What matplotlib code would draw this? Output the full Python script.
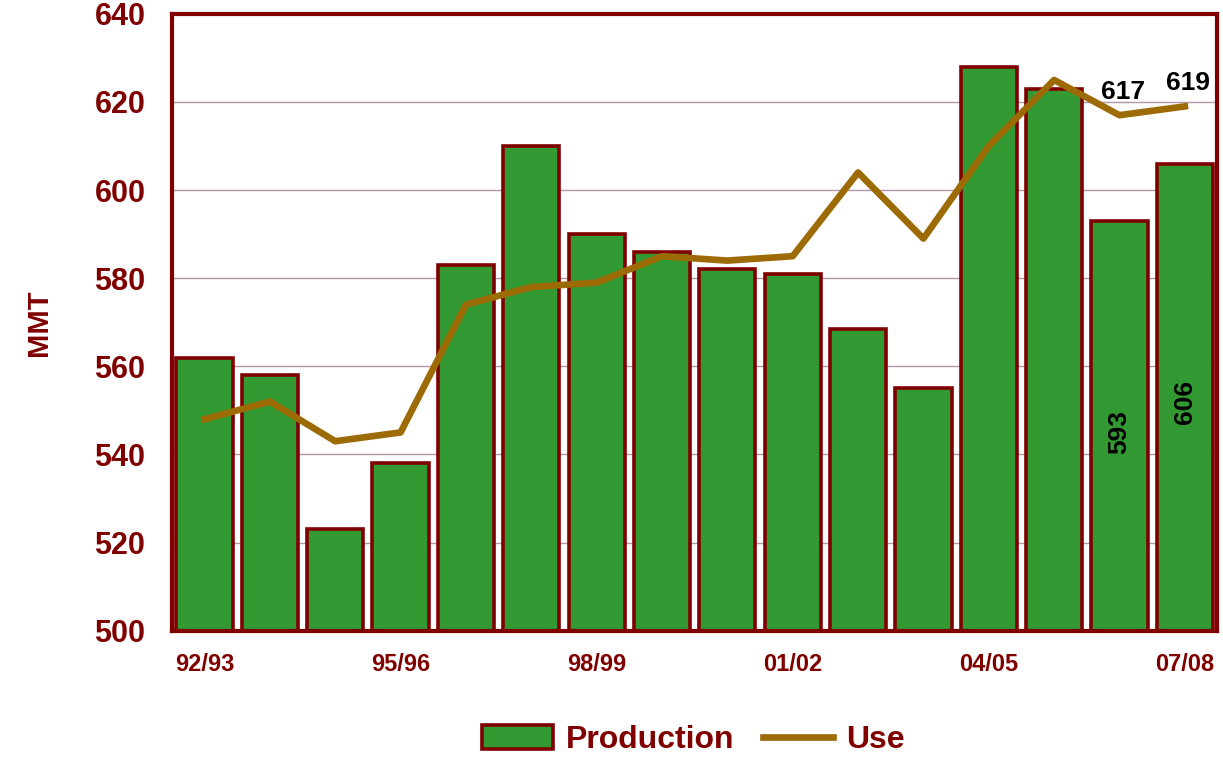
import numpy as np
import matplotlib
matplotlib.use('Agg')
import matplotlib.pyplot as plt

seasons = ['92/93', '93/94', '94/95', '95/96', '96/97', '97/98', '98/99', '99/00',
           '00/01', '01/02', '02/03', '03/04', '04/05', '05/06', '06/07', '07/08']
production = [562, 558, 523, 538, 583, 610, 590, 586, 582, 581, 568.5, 555, 628, 623, 593, 606]
use = [548, 552, 543, 545, 574, 578, 579, 585, 584, 585, 604, 589, 610, 625, 617, 619]
shown_labels = ['92/93', '95/96', '98/99', '01/02', '04/05', '07/08']

dark = '#800000'
green = '#339933'
gold = '#9C6B05'

plt.rcParams['font.family'] = ['Liberation Sans', 'DejaVu Sans']
plt.rcParams['font.weight'] = 'bold'

fig = plt.figure(figsize=(12.23, 7.71), dpi=100)
ax = fig.add_axes([0.1405, 0.182, 0.855, 0.8])

x = np.arange(len(seasons))
bars = ax.bar(x, production, width=0.86, color=green, edgecolor=dark,
              linewidth=2.6, label='Production', zorder=2)
line, = ax.plot(x, use, color=gold, linewidth=4.8, label='Use', zorder=3)

ax.set_ylim(500, 640)
ax.set_xlim(-0.5, len(seasons) - 0.5)
ax.set_yticks(np.arange(500, 641, 20))
ax.yaxis.grid(True, color='#b098a8', linewidth=1.0, zorder=0)
ax.set_axisbelow(True)

ax.set_xticks([seasons.index(s) for s in shown_labels])
ax.set_xticklabels(shown_labels)
ax.tick_params(axis='x', length=0, labelsize=17, labelcolor=dark, pad=16)
ax.tick_params(axis='y', length=0, labelsize=22, labelcolor=dark, pad=19)
for sp in ax.spines.values():
    sp.set_color(dark)
    sp.set_linewidth(3)

ax.set_ylabel('MMT', fontsize=21, color=dark, fontweight='bold', labelpad=30)

# value labels for the last two seasons
inside_offset = {14: 48, 15: 54}
for i in (14, 15):
    ax.text(x[i], production[i] - inside_offset[i], '%d' % round(production[i]), rotation=90,
            ha='center', va='center', fontsize=19, fontweight='bold', color='black', zorder=4)
    ax.text(x[i] + 0.05, use[i] + 2.5, '%d' % use[i], ha='center', va='bottom',
            fontsize=19, fontweight='bold', color='black', zorder=4)

leg = fig.legend([bars, line], ['Production', 'Use'], loc='center',
                 bbox_to_anchor=(0.567, 0.04), ncol=2, frameon=False,
                 fontsize=23, handlelength=2.2, handleheight=0.8, columnspacing=0.9,
                 handletextpad=0.4)
for t in leg.get_texts():
    t.set_color(dark)
    t.set_fontweight('bold')

plt.savefig('out.png', dpi=100)
